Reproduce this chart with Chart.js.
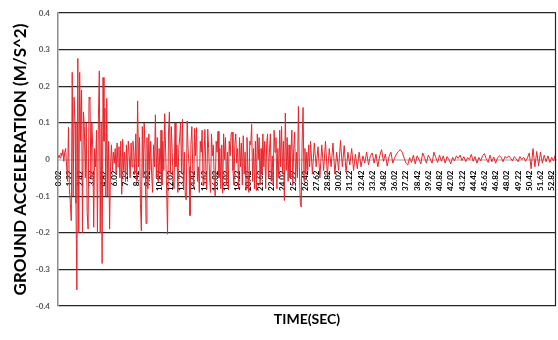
<!DOCTYPE html>
<html><head><meta charset="utf-8">
<script src="https://cdn.jsdelivr.net/npm/chart.js@4.4.1/dist/chart.umd.min.js"></script>
<style>html,body{margin:0;padding:0;background:#fff}#wrap{width:558px;height:340px}</style>
</head><body><div id="wrap"><canvas id="c" width="558" height="340"></canvas></div>
<script>
// Tick labels on the time axis (seconds)
const tickLabels = ['0.02','1.22','2.42','3.62','4.82','6.02','7.22','8.42','9.62','10.82','12.02','13.22','14.42','15.62','16.82','18.02','19.22','20.42','21.62','22.82','24.02','25.22','26.42','27.62','28.82','30.02','31.22','32.42','33.62','34.82','36.02','37.22','38.42','39.62','40.82','42.02','43.22','44.42','45.62','46.82','48.02','49.22','50.42','51.62','52.82'];
const yTickValues = [-0.4,-0.3,-0.2,-0.1,0,0.1,0.2,0.3,0.4];
const xTitle = 'TIME(SEC)';
const yTitle = 'GROUND ACCELERATION (M/S^2)';

// Strong-motion part: samples every 0.1 s starting at 0.02 s (m/s^2)
const strongStart = 0.02, strongStep = 0.1;
const strongMotion = [
 0.005,0.012,0.004,0.018,0.01,0.027,-0.005,0.02,0.03,-0.02,
 -0.06,0.088,-0.08,-0.12,-0.167,0.238,-0.1,0.17,0.1,-0.12,
 -0.356,0.276,-0.2,0.238,0.05,0.19,-0.2,0.13,0.09,-0.05,
 0.1,-0.145,-0.19,0.17,0.165,-0.05,0.1,0.03,-0.185,0.03,
 -0.02,0.08,-0.2,0.11,0.242,-0.2,0.1,-0.284,0.224,0.05,
 0.14,-0.1,0.167,-0.1,0.05,-0.19,-0.02,0.04,-0.03,0.02,
 -0.01,0.03,-0.04,0.045,-0.02,0.035,-0.05,0.05,-0.095,0.055,
 -0.03,0.02,-0.06,0.04,-0.04,0.05,0.01,-0.05,0.045,-0.02,
 0.05,0.02,-0.04,0.07,-0.06,0.16,-0.02,0.06,-0.12,-0.195,
 0.09,-0.05,0.1,0.02,-0.175,0.06,-0.08,0.07,-0.03,0.05,
 -0.04,-0.09,0.04,-0.02,0.122,-0.05,0.06,-0.06,0.03,-0.04,
 0.08,-0.07,0.05,-0.03,0.125,0.02,-0.08,-0.204,0.07,0.13,
 -0.04,0.09,0.02,-0.06,-0.08,0.1,-0.02,0.04,-0.09,0.03,
 0.06,0.1,-0.04,0.11,-0.08,0.02,-0.1,-0.11,0.105,0.03,
 -0.02,-0.153,0.04,0.09,-0.03,-0.08,0.085,0.01,0.087,-0.06,
 -0.02,-0.09,0.05,0.02,0.08,-0.07,0.01,0.082,-0.03,-0.08,
 0.083,0.03,-0.05,-0.09,0.07,0.01,0.04,-0.06,-0.099,0.05,
 0.02,0.077,-0.05,0.03,-0.08,0.04,-0.092,0.07,0.0,0.06,
 -0.07,0.02,-0.08,0.05,0.01,0.07,0.075,-0.03,-0.07,0.04,
 0.07,-0.01,0.03,-0.08,0.06,-0.02,0.045,-0.07,0.065,-0.04,
 0.02,-0.08,0.06,-0.03,-0.09,0.05,0.04,0.096,-0.06,0.03,
 -0.08,0.05,-0.085,0.07,0.0,0.06,-0.07,0.03,-0.04,0.07,
 -0.02,0.05,-0.08,0.04,0.07,-0.05,0.02,0.07,-0.06,0.01,
 -0.07,0.08,0.02,0.06,-0.08,0.03,-0.05,0.08,-0.02,0.09,
 -0.04,0.05,-0.112,0.127,-0.03,0.06,-0.06,0.04,-0.05,0.02,
 0.08,-0.07,0.03,0.075,-0.06,0.02,-0.05,0.145,-0.02,-0.117,
 -0.13,0.05,0.142,-0.06,0.03,-0.04,0.02,-0.03,0.04,-0.02,
 0.05
];

// Coda part: samples every 0.2 s starting at 27.22 s (m/s^2)
const codaStart = 27.22, codaStep = 0.2;
const codaMotion = [
 -0.04,0.045,-0.02,0.035,-0.05,0.04,-0.03,0.05,-0.045,0.03,
 -0.02,0.045,-0.04,0.02,-0.03,0.052,-0.02,0.038,-0.035,0.02,
 -0.015,0.03,-0.03,0.015,-0.025,0.02,-0.02,0.01,-0.01,0.02,
 -0.015,0.01,0.018,-0.01,0.015,-0.02,0.01,0.027,-0.005,0.015,
 -0.018,0.008,0.02,-0.01,0.005,0.015,0.022,0.027,0.02,0.005,
 -0.01,-0.015,0.005,-0.008,0.012,-0.012,0.01,0.0,-0.012,0.018,
 0.005,-0.01,0.012,0.002,-0.01,0.02,0.005,-0.008,0.012,-0.005,
 0.01,-0.01,0.008,0.0,-0.012,0.006,-0.004,0.01,0.003,0.012,
 -0.003,0.008,-0.006,0.005,0.0,0.014,-0.005,0.008,-0.01,0.006,
 -0.004,0.01,0.016,0.002,-0.008,0.012,-0.006,0.007,-0.01,0.004,
 0.01,0.006,-0.006,0.008,0.004,0.01,0.004,-0.004,0.008,0.002,
 -0.006,0.008,0.0,0.006,-0.005,0.004,0.018,-0.025,0.03,-0.02,
 0.022,-0.018,0.02,-0.01,0.012,-0.006,0.01,-0.008,0.006,-0.004,
 0.014
];

const points = [];
strongMotion.forEach((v, i) => points.push({x: strongStart + i * strongStep, y: v}));
codaMotion.forEach((v, i) => points.push({x: codaStart + i * codaStep, y: v}));

const FONT = 'Lato, "Liberation Sans", sans-serif';

const frameAndTitle = {
  id: 'frameAndTitle',
  afterDatasetsDraw(chart) {
    const {ctx, chartArea: a} = chart;
    ctx.save();
    ctx.strokeStyle = '#262626';
    ctx.lineWidth = 1.2;
    ctx.beginPath();
    ctx.moveTo(a.right - 0.5, a.top);
    ctx.lineTo(a.right - 0.5, a.bottom);
    ctx.stroke();
    ctx.fillStyle = '#000';
    ctx.font = 'bold 14px ' + FONT;
    ctx.textAlign = 'center';
    ctx.textBaseline = 'middle';
    ctx.fillText(xTitle, (a.left + a.right) / 2, 319);
    ctx.restore();
  }
};

new Chart(document.getElementById('c'), {
  type: 'line',
  data: {
    datasets: [{
      data: points,
      borderColor: '#e8262c',
      borderWidth: 1,
      pointRadius: 0,
      tension: 0,
      fill: false
    }]
  },
  options: {
    responsive: false,
    animation: false,
    devicePixelRatio: 1,
    layout: {padding: {left: 0, right: 2, top: 13, bottom: 34}},
    plugins: {
      legend: {display: false},
      tooltip: {enabled: false}
    },
    scales: {
      x: {
        type: 'linear',
        position: {y: 0},
        min: 0, max: 53.28,
        grid: {display: false},
        border: {display: true, color: '#d0d0d0', width: 2},
        afterBuildTicks(scale) {
          scale.ticks = tickLabels.map(l => ({value: parseFloat(l), label: l}));
        },
        afterFit(scale) { scale.paddingLeft = 0; scale.paddingRight = 0; },
        ticks: {
          autoSkip: false, minRotation: 90, maxRotation: 90, padding: 3,
          color: '#000', font: {family: FONT, size: 8, weight: 'bold'},
          callback(value, index) { return tickLabels[index]; }
        }
      },
      y: {
        min: -0.4, max: 0.4,
        afterBuildTicks(scale) { scale.ticks = yTickValues.map(v => ({value: v})); },
        afterFit(scale) { scale.width = 58; },
        grid: {
          drawTicks: false, lineWidth: 1.2,
          color: c => (c.tick && Math.abs(c.tick.value) < 1e-9) ? 'rgba(0,0,0,0)' : '#262626'
        },
        border: {display: true, color: '#8c8c8c', width: 1.5},
        ticks: {
          padding: 8, color: '#595959', font: {family: FONT, size: 8, weight: 'bold'},
          callback: v => (Math.abs(v) < 1e-9 ? '0' : String(Math.round(v * 10) / 10))
        },
        title: {
          display: true, text: yTitle, color: '#000',
          font: {family: FONT, size: 17, weight: 'bold'}, padding: {top: 10, bottom: 0}
        }
      }
    }
  },
  plugins: [frameAndTitle]
});
</script>
</body></html>
